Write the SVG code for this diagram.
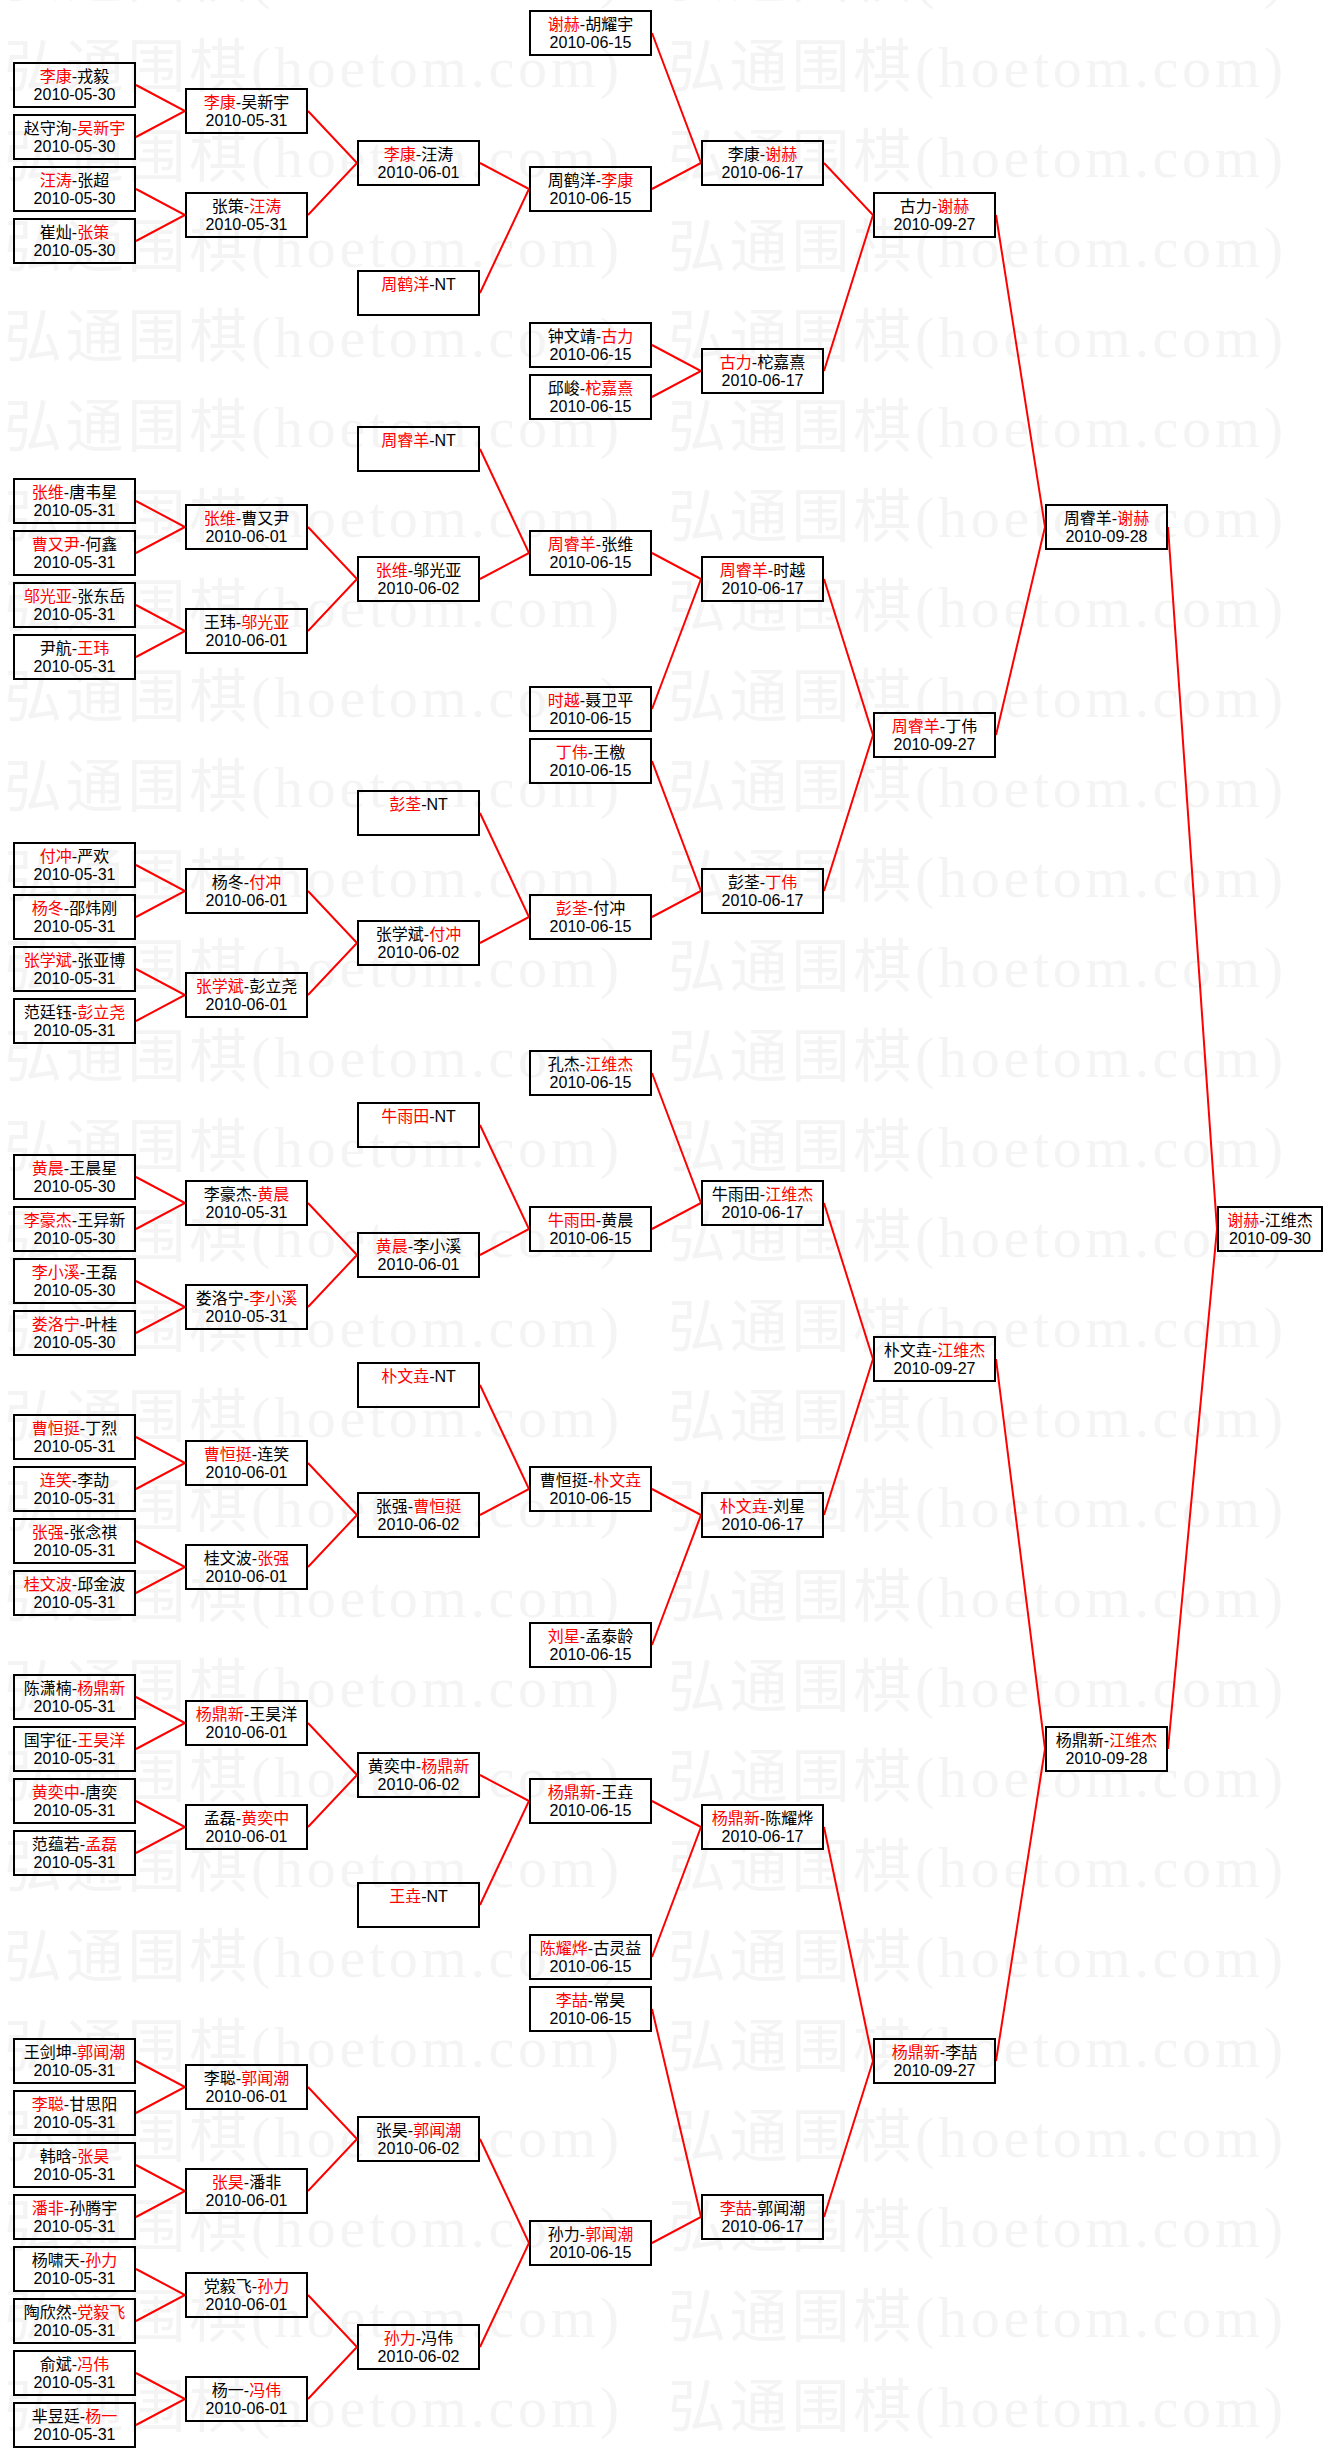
<svg xmlns="http://www.w3.org/2000/svg" width="1334" height="2457" viewBox="0 0 1334 2457">
<style>
.node rect{fill:none;stroke:#000;stroke-width:2}
.node text{font-family:"Liberation Sans","Noto Sans CJK SC",sans-serif;font-size:16px;text-anchor:middle;fill:#000}
.node .w{fill:#f00}
#connectors path{fill:none;stroke:#f00;stroke-width:2}
.wmt{font-family:"Liberation Serif","Noto Sans CJK SC",serif;font-size:58px;fill:#f4f4f4}
</style>
<defs>
<pattern id="wm" patternUnits="userSpaceOnUse" x="0" y="20" width="664" height="90">
<text x="4" y="67" textLength="615" lengthAdjust="spacing" class="wmt">弘通围棋(hoetom.com)</text>
</pattern>
</defs>
<rect width="1334" height="2457" fill="#fff"/>
<rect width="1334" height="2457" fill="url(#wm)"/>
<g id="connectors">
<path d="M136 85L185 111L136 137"/>
<path d="M136 189L185 215L136 241"/>
<path d="M136 501L185 527L136 553"/>
<path d="M136 605L185 631L136 657"/>
<path d="M136 865L185 891L136 917"/>
<path d="M136 969L185 995L136 1021"/>
<path d="M136 1177L185 1203L136 1229"/>
<path d="M136 1281L185 1307L136 1333"/>
<path d="M136 1437L185 1463L136 1489"/>
<path d="M136 1541L185 1567L136 1593"/>
<path d="M136 1697L185 1723L136 1749"/>
<path d="M136 1801L185 1827L136 1853"/>
<path d="M136 2061L185 2087L136 2113"/>
<path d="M136 2165L185 2191L136 2217"/>
<path d="M136 2269L185 2295L136 2321"/>
<path d="M136 2373L185 2399L136 2425"/>
<path d="M308 111L357 163L308 215"/>
<path d="M308 527L357 579L308 631"/>
<path d="M308 891L357 943L308 995"/>
<path d="M308 1203L357 1255L308 1307"/>
<path d="M308 1463L357 1515L308 1567"/>
<path d="M308 1723L357 1775L308 1827"/>
<path d="M308 2087L357 2139L308 2191"/>
<path d="M308 2295L357 2347L308 2399"/>
<path d="M480 163L529 189L480 293"/>
<path d="M480 449L529 553L480 579"/>
<path d="M480 813L529 917L480 943"/>
<path d="M480 1125L529 1229L480 1255"/>
<path d="M480 1385L529 1489L480 1515"/>
<path d="M480 1775L529 1801L480 1905"/>
<path d="M480 2139L529 2243L480 2347"/>
<path d="M652 33L701 163L652 189"/>
<path d="M652 345L701 371L652 397"/>
<path d="M652 553L701 579L652 709"/>
<path d="M652 761L701 891L652 917"/>
<path d="M652 1073L701 1203L652 1229"/>
<path d="M652 1489L701 1515L652 1645"/>
<path d="M652 1801L701 1827L652 1957"/>
<path d="M652 2009L701 2217L652 2243"/>
<path d="M824 163L873 215L824 371"/>
<path d="M824 579L873 735L824 891"/>
<path d="M824 1203L873 1359L824 1515"/>
<path d="M824 1827L873 2061L824 2217"/>
<path d="M996 215L1045 527L996 735"/>
<path d="M996 1359L1045 1749L996 2061"/>
<path d="M1168 527L1217 1229L1168 1749"/>
</g>
<g id="nodes">
<g id="r1-01" class="node" transform="translate(13,62)"><rect x="1" y="1" width="121" height="44"/><text x="61.5" y="20"><tspan class="w">李康</tspan>-戎毅</text><text x="61.5" y="38">2010-05-30</text></g>
<g id="r1-02" class="node" transform="translate(13,114)"><rect x="1" y="1" width="121" height="44"/><text x="61.5" y="20">赵守洵-<tspan class="w">吴新宇</tspan></text><text x="61.5" y="38">2010-05-30</text></g>
<g id="r1-03" class="node" transform="translate(13,166)"><rect x="1" y="1" width="121" height="44"/><text x="61.5" y="20"><tspan class="w">汪涛</tspan>-张超</text><text x="61.5" y="38">2010-05-30</text></g>
<g id="r1-04" class="node" transform="translate(13,218)"><rect x="1" y="1" width="121" height="44"/><text x="61.5" y="20">崔灿-<tspan class="w">张策</tspan></text><text x="61.5" y="38">2010-05-30</text></g>
<g id="r1-05" class="node" transform="translate(13,478)"><rect x="1" y="1" width="121" height="44"/><text x="61.5" y="20"><tspan class="w">张维</tspan>-唐韦星</text><text x="61.5" y="38">2010-05-31</text></g>
<g id="r1-06" class="node" transform="translate(13,530)"><rect x="1" y="1" width="121" height="44"/><text x="61.5" y="20"><tspan class="w">曹又尹</tspan>-何鑫</text><text x="61.5" y="38">2010-05-31</text></g>
<g id="r1-07" class="node" transform="translate(13,582)"><rect x="1" y="1" width="121" height="44"/><text x="61.5" y="20"><tspan class="w">邬光亚</tspan>-张东岳</text><text x="61.5" y="38">2010-05-31</text></g>
<g id="r1-08" class="node" transform="translate(13,634)"><rect x="1" y="1" width="121" height="44"/><text x="61.5" y="20">尹航-<tspan class="w">王玮</tspan></text><text x="61.5" y="38">2010-05-31</text></g>
<g id="r1-09" class="node" transform="translate(13,842)"><rect x="1" y="1" width="121" height="44"/><text x="61.5" y="20"><tspan class="w">付冲</tspan>-严欢</text><text x="61.5" y="38">2010-05-31</text></g>
<g id="r1-10" class="node" transform="translate(13,894)"><rect x="1" y="1" width="121" height="44"/><text x="61.5" y="20"><tspan class="w">杨冬</tspan>-邵炜刚</text><text x="61.5" y="38">2010-05-31</text></g>
<g id="r1-11" class="node" transform="translate(13,946)"><rect x="1" y="1" width="121" height="44"/><text x="61.5" y="20"><tspan class="w">张学斌</tspan>-张亚博</text><text x="61.5" y="38">2010-05-31</text></g>
<g id="r1-12" class="node" transform="translate(13,998)"><rect x="1" y="1" width="121" height="44"/><text x="61.5" y="20">范廷钰-<tspan class="w">彭立尧</tspan></text><text x="61.5" y="38">2010-05-31</text></g>
<g id="r1-13" class="node" transform="translate(13,1154)"><rect x="1" y="1" width="121" height="44"/><text x="61.5" y="20"><tspan class="w">黄晨</tspan>-王晨星</text><text x="61.5" y="38">2010-05-30</text></g>
<g id="r1-14" class="node" transform="translate(13,1206)"><rect x="1" y="1" width="121" height="44"/><text x="61.5" y="20"><tspan class="w">李豪杰</tspan>-王异新</text><text x="61.5" y="38">2010-05-30</text></g>
<g id="r1-15" class="node" transform="translate(13,1258)"><rect x="1" y="1" width="121" height="44"/><text x="61.5" y="20"><tspan class="w">李小溪</tspan>-王磊</text><text x="61.5" y="38">2010-05-30</text></g>
<g id="r1-16" class="node" transform="translate(13,1310)"><rect x="1" y="1" width="121" height="44"/><text x="61.5" y="20"><tspan class="w">娄洛宁</tspan>-叶桂</text><text x="61.5" y="38">2010-05-30</text></g>
<g id="r1-17" class="node" transform="translate(13,1414)"><rect x="1" y="1" width="121" height="44"/><text x="61.5" y="20"><tspan class="w">曹恒挺</tspan>-丁烈</text><text x="61.5" y="38">2010-05-31</text></g>
<g id="r1-18" class="node" transform="translate(13,1466)"><rect x="1" y="1" width="121" height="44"/><text x="61.5" y="20"><tspan class="w">连笑</tspan>-李劼</text><text x="61.5" y="38">2010-05-31</text></g>
<g id="r1-19" class="node" transform="translate(13,1518)"><rect x="1" y="1" width="121" height="44"/><text x="61.5" y="20"><tspan class="w">张强</tspan>-张念祺</text><text x="61.5" y="38">2010-05-31</text></g>
<g id="r1-20" class="node" transform="translate(13,1570)"><rect x="1" y="1" width="121" height="44"/><text x="61.5" y="20"><tspan class="w">桂文波</tspan>-邱金波</text><text x="61.5" y="38">2010-05-31</text></g>
<g id="r1-21" class="node" transform="translate(13,1674)"><rect x="1" y="1" width="121" height="44"/><text x="61.5" y="20">陈潇楠-<tspan class="w">杨鼎新</tspan></text><text x="61.5" y="38">2010-05-31</text></g>
<g id="r1-22" class="node" transform="translate(13,1726)"><rect x="1" y="1" width="121" height="44"/><text x="61.5" y="20">国宇征-<tspan class="w">王昊洋</tspan></text><text x="61.5" y="38">2010-05-31</text></g>
<g id="r1-23" class="node" transform="translate(13,1778)"><rect x="1" y="1" width="121" height="44"/><text x="61.5" y="20"><tspan class="w">黄奕中</tspan>-唐奕</text><text x="61.5" y="38">2010-05-31</text></g>
<g id="r1-24" class="node" transform="translate(13,1830)"><rect x="1" y="1" width="121" height="44"/><text x="61.5" y="20">范蕴若-<tspan class="w">孟磊</tspan></text><text x="61.5" y="38">2010-05-31</text></g>
<g id="r1-25" class="node" transform="translate(13,2038)"><rect x="1" y="1" width="121" height="44"/><text x="61.5" y="20">王剑坤-<tspan class="w">郭闻潮</tspan></text><text x="61.5" y="38">2010-05-31</text></g>
<g id="r1-26" class="node" transform="translate(13,2090)"><rect x="1" y="1" width="121" height="44"/><text x="61.5" y="20"><tspan class="w">李聪</tspan>-甘思阳</text><text x="61.5" y="38">2010-05-31</text></g>
<g id="r1-27" class="node" transform="translate(13,2142)"><rect x="1" y="1" width="121" height="44"/><text x="61.5" y="20">韩晗-<tspan class="w">张昊</tspan></text><text x="61.5" y="38">2010-05-31</text></g>
<g id="r1-28" class="node" transform="translate(13,2194)"><rect x="1" y="1" width="121" height="44"/><text x="61.5" y="20"><tspan class="w">潘非</tspan>-孙腾宇</text><text x="61.5" y="38">2010-05-31</text></g>
<g id="r1-29" class="node" transform="translate(13,2246)"><rect x="1" y="1" width="121" height="44"/><text x="61.5" y="20">杨啸天-<tspan class="w">孙力</tspan></text><text x="61.5" y="38">2010-05-31</text></g>
<g id="r1-30" class="node" transform="translate(13,2298)"><rect x="1" y="1" width="121" height="44"/><text x="61.5" y="20">陶欣然-<tspan class="w">党毅飞</tspan></text><text x="61.5" y="38">2010-05-31</text></g>
<g id="r1-31" class="node" transform="translate(13,2350)"><rect x="1" y="1" width="121" height="44"/><text x="61.5" y="20">俞斌-<tspan class="w">冯伟</tspan></text><text x="61.5" y="38">2010-05-31</text></g>
<g id="r1-32" class="node" transform="translate(13,2402)"><rect x="1" y="1" width="121" height="44"/><text x="61.5" y="20">芈昱廷-<tspan class="w">杨一</tspan></text><text x="61.5" y="38">2010-05-31</text></g>

<g id="r2-01" class="node" transform="translate(185,88)"><rect x="1" y="1" width="121" height="44"/><text x="61.5" y="20"><tspan class="w">李康</tspan>-吴新宇</text><text x="61.5" y="38">2010-05-31</text></g>
<g id="r2-02" class="node" transform="translate(185,192)"><rect x="1" y="1" width="121" height="44"/><text x="61.5" y="20">张策-<tspan class="w">汪涛</tspan></text><text x="61.5" y="38">2010-05-31</text></g>
<g id="r2-03" class="node" transform="translate(185,504)"><rect x="1" y="1" width="121" height="44"/><text x="61.5" y="20"><tspan class="w">张维</tspan>-曹又尹</text><text x="61.5" y="38">2010-06-01</text></g>
<g id="r2-04" class="node" transform="translate(185,608)"><rect x="1" y="1" width="121" height="44"/><text x="61.5" y="20">王玮-<tspan class="w">邬光亚</tspan></text><text x="61.5" y="38">2010-06-01</text></g>
<g id="r2-05" class="node" transform="translate(185,868)"><rect x="1" y="1" width="121" height="44"/><text x="61.5" y="20">杨冬-<tspan class="w">付冲</tspan></text><text x="61.5" y="38">2010-06-01</text></g>
<g id="r2-06" class="node" transform="translate(185,972)"><rect x="1" y="1" width="121" height="44"/><text x="61.5" y="20"><tspan class="w">张学斌</tspan>-彭立尧</text><text x="61.5" y="38">2010-06-01</text></g>
<g id="r2-07" class="node" transform="translate(185,1180)"><rect x="1" y="1" width="121" height="44"/><text x="61.5" y="20">李豪杰-<tspan class="w">黄晨</tspan></text><text x="61.5" y="38">2010-05-31</text></g>
<g id="r2-08" class="node" transform="translate(185,1284)"><rect x="1" y="1" width="121" height="44"/><text x="61.5" y="20">娄洛宁-<tspan class="w">李小溪</tspan></text><text x="61.5" y="38">2010-05-31</text></g>
<g id="r2-09" class="node" transform="translate(185,1440)"><rect x="1" y="1" width="121" height="44"/><text x="61.5" y="20"><tspan class="w">曹恒挺</tspan>-连笑</text><text x="61.5" y="38">2010-06-01</text></g>
<g id="r2-10" class="node" transform="translate(185,1544)"><rect x="1" y="1" width="121" height="44"/><text x="61.5" y="20">桂文波-<tspan class="w">张强</tspan></text><text x="61.5" y="38">2010-06-01</text></g>
<g id="r2-11" class="node" transform="translate(185,1700)"><rect x="1" y="1" width="121" height="44"/><text x="61.5" y="20"><tspan class="w">杨鼎新</tspan>-王昊洋</text><text x="61.5" y="38">2010-06-01</text></g>
<g id="r2-12" class="node" transform="translate(185,1804)"><rect x="1" y="1" width="121" height="44"/><text x="61.5" y="20">孟磊-<tspan class="w">黄奕中</tspan></text><text x="61.5" y="38">2010-06-01</text></g>
<g id="r2-13" class="node" transform="translate(185,2064)"><rect x="1" y="1" width="121" height="44"/><text x="61.5" y="20">李聪-<tspan class="w">郭闻潮</tspan></text><text x="61.5" y="38">2010-06-01</text></g>
<g id="r2-14" class="node" transform="translate(185,2168)"><rect x="1" y="1" width="121" height="44"/><text x="61.5" y="20"><tspan class="w">张昊</tspan>-潘非</text><text x="61.5" y="38">2010-06-01</text></g>
<g id="r2-15" class="node" transform="translate(185,2272)"><rect x="1" y="1" width="121" height="44"/><text x="61.5" y="20">党毅飞-<tspan class="w">孙力</tspan></text><text x="61.5" y="38">2010-06-01</text></g>
<g id="r2-16" class="node" transform="translate(185,2376)"><rect x="1" y="1" width="121" height="44"/><text x="61.5" y="20">杨一-<tspan class="w">冯伟</tspan></text><text x="61.5" y="38">2010-06-01</text></g>

<g id="r3-01" class="node" transform="translate(357,140)"><rect x="1" y="1" width="121" height="44"/><text x="61.5" y="20"><tspan class="w">李康</tspan>-汪涛</text><text x="61.5" y="38">2010-06-01</text></g>
<g id="r3-02" class="node" transform="translate(357,270)"><rect x="1" y="1" width="121" height="44"/><text x="61.5" y="20"><tspan class="w">周鹤洋</tspan>-NT</text></g>
<g id="r3-03" class="node" transform="translate(357,426)"><rect x="1" y="1" width="121" height="44"/><text x="61.5" y="20"><tspan class="w">周睿羊</tspan>-NT</text></g>
<g id="r3-04" class="node" transform="translate(357,556)"><rect x="1" y="1" width="121" height="44"/><text x="61.5" y="20"><tspan class="w">张维</tspan>-邬光亚</text><text x="61.5" y="38">2010-06-02</text></g>
<g id="r3-05" class="node" transform="translate(357,790)"><rect x="1" y="1" width="121" height="44"/><text x="61.5" y="20"><tspan class="w">彭荃</tspan>-NT</text></g>
<g id="r3-06" class="node" transform="translate(357,920)"><rect x="1" y="1" width="121" height="44"/><text x="61.5" y="20">张学斌-<tspan class="w">付冲</tspan></text><text x="61.5" y="38">2010-06-02</text></g>
<g id="r3-07" class="node" transform="translate(357,1102)"><rect x="1" y="1" width="121" height="44"/><text x="61.5" y="20"><tspan class="w">牛雨田</tspan>-NT</text></g>
<g id="r3-08" class="node" transform="translate(357,1232)"><rect x="1" y="1" width="121" height="44"/><text x="61.5" y="20"><tspan class="w">黄晨</tspan>-李小溪</text><text x="61.5" y="38">2010-06-01</text></g>
<g id="r3-09" class="node" transform="translate(357,1362)"><rect x="1" y="1" width="121" height="44"/><text x="61.5" y="20"><tspan class="w">朴文垚</tspan>-NT</text></g>
<g id="r3-10" class="node" transform="translate(357,1492)"><rect x="1" y="1" width="121" height="44"/><text x="61.5" y="20">张强-<tspan class="w">曹恒挺</tspan></text><text x="61.5" y="38">2010-06-02</text></g>
<g id="r3-11" class="node" transform="translate(357,1752)"><rect x="1" y="1" width="121" height="44"/><text x="61.5" y="20">黄奕中-<tspan class="w">杨鼎新</tspan></text><text x="61.5" y="38">2010-06-02</text></g>
<g id="r3-12" class="node" transform="translate(357,1882)"><rect x="1" y="1" width="121" height="44"/><text x="61.5" y="20"><tspan class="w">王垚</tspan>-NT</text></g>
<g id="r3-13" class="node" transform="translate(357,2116)"><rect x="1" y="1" width="121" height="44"/><text x="61.5" y="20">张昊-<tspan class="w">郭闻潮</tspan></text><text x="61.5" y="38">2010-06-02</text></g>
<g id="r3-14" class="node" transform="translate(357,2324)"><rect x="1" y="1" width="121" height="44"/><text x="61.5" y="20"><tspan class="w">孙力</tspan>-冯伟</text><text x="61.5" y="38">2010-06-02</text></g>

<g id="r4-01" class="node" transform="translate(529,10)"><rect x="1" y="1" width="121" height="44"/><text x="61.5" y="20"><tspan class="w">谢赫</tspan>-胡耀宇</text><text x="61.5" y="38">2010-06-15</text></g>
<g id="r4-02" class="node" transform="translate(529,166)"><rect x="1" y="1" width="121" height="44"/><text x="61.5" y="20">周鹤洋-<tspan class="w">李康</tspan></text><text x="61.5" y="38">2010-06-15</text></g>
<g id="r4-03" class="node" transform="translate(529,322)"><rect x="1" y="1" width="121" height="44"/><text x="61.5" y="20">钟文靖-<tspan class="w">古力</tspan></text><text x="61.5" y="38">2010-06-15</text></g>
<g id="r4-04" class="node" transform="translate(529,374)"><rect x="1" y="1" width="121" height="44"/><text x="61.5" y="20">邱峻-<tspan class="w">柁嘉熹</tspan></text><text x="61.5" y="38">2010-06-15</text></g>
<g id="r4-05" class="node" transform="translate(529,530)"><rect x="1" y="1" width="121" height="44"/><text x="61.5" y="20"><tspan class="w">周睿羊</tspan>-张维</text><text x="61.5" y="38">2010-06-15</text></g>
<g id="r4-06" class="node" transform="translate(529,686)"><rect x="1" y="1" width="121" height="44"/><text x="61.5" y="20"><tspan class="w">时越</tspan>-聂卫平</text><text x="61.5" y="38">2010-06-15</text></g>
<g id="r4-07" class="node" transform="translate(529,738)"><rect x="1" y="1" width="121" height="44"/><text x="61.5" y="20"><tspan class="w">丁伟</tspan>-王檄</text><text x="61.5" y="38">2010-06-15</text></g>
<g id="r4-08" class="node" transform="translate(529,894)"><rect x="1" y="1" width="121" height="44"/><text x="61.5" y="20"><tspan class="w">彭荃</tspan>-付冲</text><text x="61.5" y="38">2010-06-15</text></g>
<g id="r4-09" class="node" transform="translate(529,1050)"><rect x="1" y="1" width="121" height="44"/><text x="61.5" y="20">孔杰-<tspan class="w">江维杰</tspan></text><text x="61.5" y="38">2010-06-15</text></g>
<g id="r4-10" class="node" transform="translate(529,1206)"><rect x="1" y="1" width="121" height="44"/><text x="61.5" y="20"><tspan class="w">牛雨田</tspan>-黄晨</text><text x="61.5" y="38">2010-06-15</text></g>
<g id="r4-11" class="node" transform="translate(529,1466)"><rect x="1" y="1" width="121" height="44"/><text x="61.5" y="20">曹恒挺-<tspan class="w">朴文垚</tspan></text><text x="61.5" y="38">2010-06-15</text></g>
<g id="r4-12" class="node" transform="translate(529,1622)"><rect x="1" y="1" width="121" height="44"/><text x="61.5" y="20"><tspan class="w">刘星</tspan>-孟泰龄</text><text x="61.5" y="38">2010-06-15</text></g>
<g id="r4-13" class="node" transform="translate(529,1778)"><rect x="1" y="1" width="121" height="44"/><text x="61.5" y="20"><tspan class="w">杨鼎新</tspan>-王垚</text><text x="61.5" y="38">2010-06-15</text></g>
<g id="r4-14" class="node" transform="translate(529,1934)"><rect x="1" y="1" width="121" height="44"/><text x="61.5" y="20"><tspan class="w">陈耀烨</tspan>-古灵益</text><text x="61.5" y="38">2010-06-15</text></g>
<g id="r4-15" class="node" transform="translate(529,1986)"><rect x="1" y="1" width="121" height="44"/><text x="61.5" y="20"><tspan class="w">李喆</tspan>-常昊</text><text x="61.5" y="38">2010-06-15</text></g>
<g id="r4-16" class="node" transform="translate(529,2220)"><rect x="1" y="1" width="121" height="44"/><text x="61.5" y="20">孙力-<tspan class="w">郭闻潮</tspan></text><text x="61.5" y="38">2010-06-15</text></g>

<g id="r5-01" class="node" transform="translate(701,140)"><rect x="1" y="1" width="121" height="44"/><text x="61.5" y="20">李康-<tspan class="w">谢赫</tspan></text><text x="61.5" y="38">2010-06-17</text></g>
<g id="r5-02" class="node" transform="translate(701,348)"><rect x="1" y="1" width="121" height="44"/><text x="61.5" y="20"><tspan class="w">古力</tspan>-柁嘉熹</text><text x="61.5" y="38">2010-06-17</text></g>
<g id="r5-03" class="node" transform="translate(701,556)"><rect x="1" y="1" width="121" height="44"/><text x="61.5" y="20"><tspan class="w">周睿羊</tspan>-时越</text><text x="61.5" y="38">2010-06-17</text></g>
<g id="r5-04" class="node" transform="translate(701,868)"><rect x="1" y="1" width="121" height="44"/><text x="61.5" y="20">彭荃-<tspan class="w">丁伟</tspan></text><text x="61.5" y="38">2010-06-17</text></g>
<g id="r5-05" class="node" transform="translate(701,1180)"><rect x="1" y="1" width="121" height="44"/><text x="61.5" y="20">牛雨田-<tspan class="w">江维杰</tspan></text><text x="61.5" y="38">2010-06-17</text></g>
<g id="r5-06" class="node" transform="translate(701,1492)"><rect x="1" y="1" width="121" height="44"/><text x="61.5" y="20"><tspan class="w">朴文垚</tspan>-刘星</text><text x="61.5" y="38">2010-06-17</text></g>
<g id="r5-07" class="node" transform="translate(701,1804)"><rect x="1" y="1" width="121" height="44"/><text x="61.5" y="20"><tspan class="w">杨鼎新</tspan>-陈耀烨</text><text x="61.5" y="38">2010-06-17</text></g>
<g id="r5-08" class="node" transform="translate(701,2194)"><rect x="1" y="1" width="121" height="44"/><text x="61.5" y="20"><tspan class="w">李喆</tspan>-郭闻潮</text><text x="61.5" y="38">2010-06-17</text></g>

<g id="r6-01" class="node" transform="translate(873,192)"><rect x="1" y="1" width="121" height="44"/><text x="61.5" y="20">古力-<tspan class="w">谢赫</tspan></text><text x="61.5" y="38">2010-09-27</text></g>
<g id="r6-02" class="node" transform="translate(873,712)"><rect x="1" y="1" width="121" height="44"/><text x="61.5" y="20"><tspan class="w">周睿羊</tspan>-丁伟</text><text x="61.5" y="38">2010-09-27</text></g>
<g id="r6-03" class="node" transform="translate(873,1336)"><rect x="1" y="1" width="121" height="44"/><text x="61.5" y="20">朴文垚-<tspan class="w">江维杰</tspan></text><text x="61.5" y="38">2010-09-27</text></g>
<g id="r6-04" class="node" transform="translate(873,2038)"><rect x="1" y="1" width="121" height="44"/><text x="61.5" y="20"><tspan class="w">杨鼎新</tspan>-李喆</text><text x="61.5" y="38">2010-09-27</text></g>

<g id="r7-01" class="node" transform="translate(1045,504)"><rect x="1" y="1" width="121" height="44"/><text x="61.5" y="20">周睿羊-<tspan class="w">谢赫</tspan></text><text x="61.5" y="38">2010-09-28</text></g>
<g id="r7-02" class="node" transform="translate(1045,1726)"><rect x="1" y="1" width="121" height="44"/><text x="61.5" y="20">杨鼎新-<tspan class="w">江维杰</tspan></text><text x="61.5" y="38">2010-09-28</text></g>

<g id="final" class="node" transform="translate(1217,1206)"><rect x="1" y="1" width="104" height="44"/><text x="53" y="20"><tspan class="w">谢赫</tspan>-江维杰</text><text x="53" y="38">2010-09-30</text></g>
</g>
</svg>
